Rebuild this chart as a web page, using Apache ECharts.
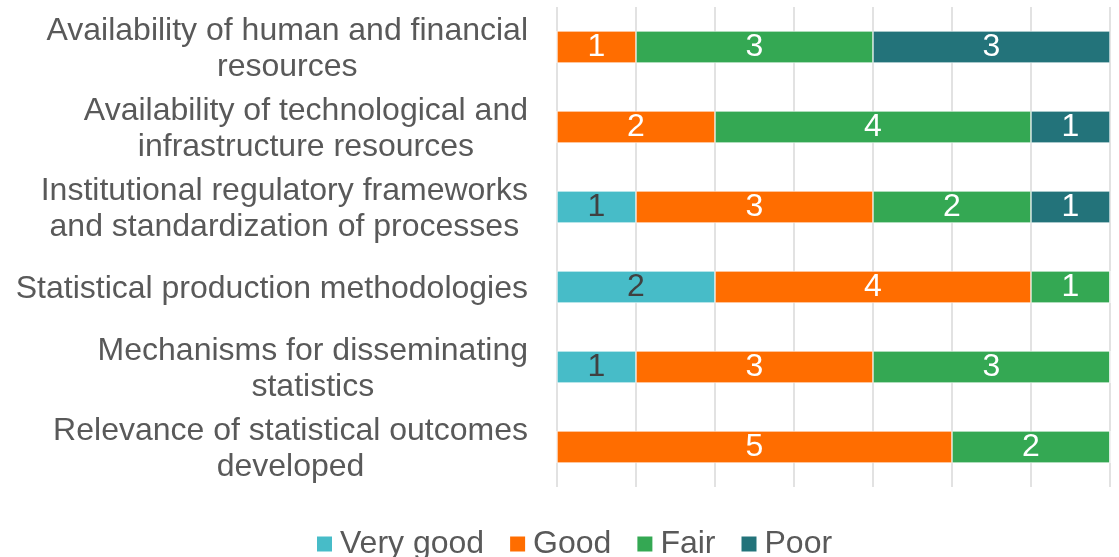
<!DOCTYPE html>
<html>
<head>
    <meta charset="utf-8">
    <title>Assessment chart</title>
    <script src="https://cdn.jsdelivr.net/npm/echarts@6/dist/echarts.min.js"></script>
    <style>
        html, body { margin: 0; padding: 0; background: #fff; }
        #chart { width: 1119px; height: 557px; }
    </style>
</head>
<body>
    <div id="chart"></div>
    <script>
        // categories, top to bottom
        var categories = [
            'Availability of human and financial\nresources',
            'Availability of technological and\ninfrastructure resources',
            'Institutional regulatory frameworks\nand standardization of processes',
            'Statistical production methodologies',
            'Mechanisms for disseminating\nstatistics',
            'Relevance of statistical outcomes\ndeveloped'
        ];
        var seriesNames = ['Very good', 'Good', 'Fair', 'Poor'];
        var veryGood = [0, 0, 1, 2, 1, 0];
        var good     = [1, 2, 3, 4, 3, 5];
        var fair     = [3, 4, 2, 1, 3, 2];
        var poor     = [3, 1, 1, 0, 0, 0];

        var colors = ['#47BCC8', '#FF6D00', '#34A853', '#23737A'];
        var labelColors = ['#404040', '#fff', '#fff', '#fff'];
        var values = [veryGood, good, fair, poor];

        var font = '"Liberation Sans", Arial, sans-serif';

        var myChart = echarts.init(document.getElementById('chart'));

        var series = seriesNames.map(function (name, i) {
            return {
                name: name,
                type: 'bar',
                stack: 'total',
                barWidth: 32,
                data: values[i],
                itemStyle: { color: colors[i], borderColor: '#fff', borderWidth: 0.6 },
                label: {
                    show: true,
                    position: 'inside',
                    color: labelColors[i],
                    fontSize: 32,
                    fontFamily: font,
                    formatter: function (p) { return p.value ? String(p.value) : ''; }
                },
                emphasis: { disabled: true }
            };
        });

        var option = {
            animation: false,
            grid: { left: 557, right: 9, top: 7, bottom: 70, containLabel: false },
            legend: {
                data: seriesNames,
                left: 310,
                top: 521,
                icon: 'rect',
                itemWidth: 17,
                itemHeight: 17,
                itemGap: 24,
                textStyle: {
                    color: '#595959',
                    fontSize: 32,
                    fontFamily: font,
                    lineHeight: 36,
                    padding: [0, 0, 0, 2]
                }
            },
            xAxis: {
                type: 'value',
                min: 0,
                max: 7,
                interval: 1,
                axisLabel: { show: false },
                axisLine: { show: false },
                axisTick: { show: false },
                splitLine: { lineStyle: { color: '#D9D9D9', width: 1.5 } }
            },
            yAxis: {
                type: 'category',
                inverse: true,
                data: categories,
                axisLine: { show: false },
                axisTick: { show: false },
                axisLabel: {
                    margin: 29,
                    align: 'right',
                    color: '#595959',
                    fontSize: 32,
                    fontFamily: font,
                    lineHeight: 36,
                    padding: [5, 0, 0, 0],
                    formatter: function (v) {
                        return v.split('\n').map(function (l) { return '{c|' + l + '}'; }).join('\n');
                    },
                    rich: {
                        c: { align: 'center', color: '#595959', fontSize: 32, fontFamily: font, lineHeight: 36 }
                    }
                }
            },
            series: series
        };

        myChart.setOption(option);
    </script>
</body>
</html>
